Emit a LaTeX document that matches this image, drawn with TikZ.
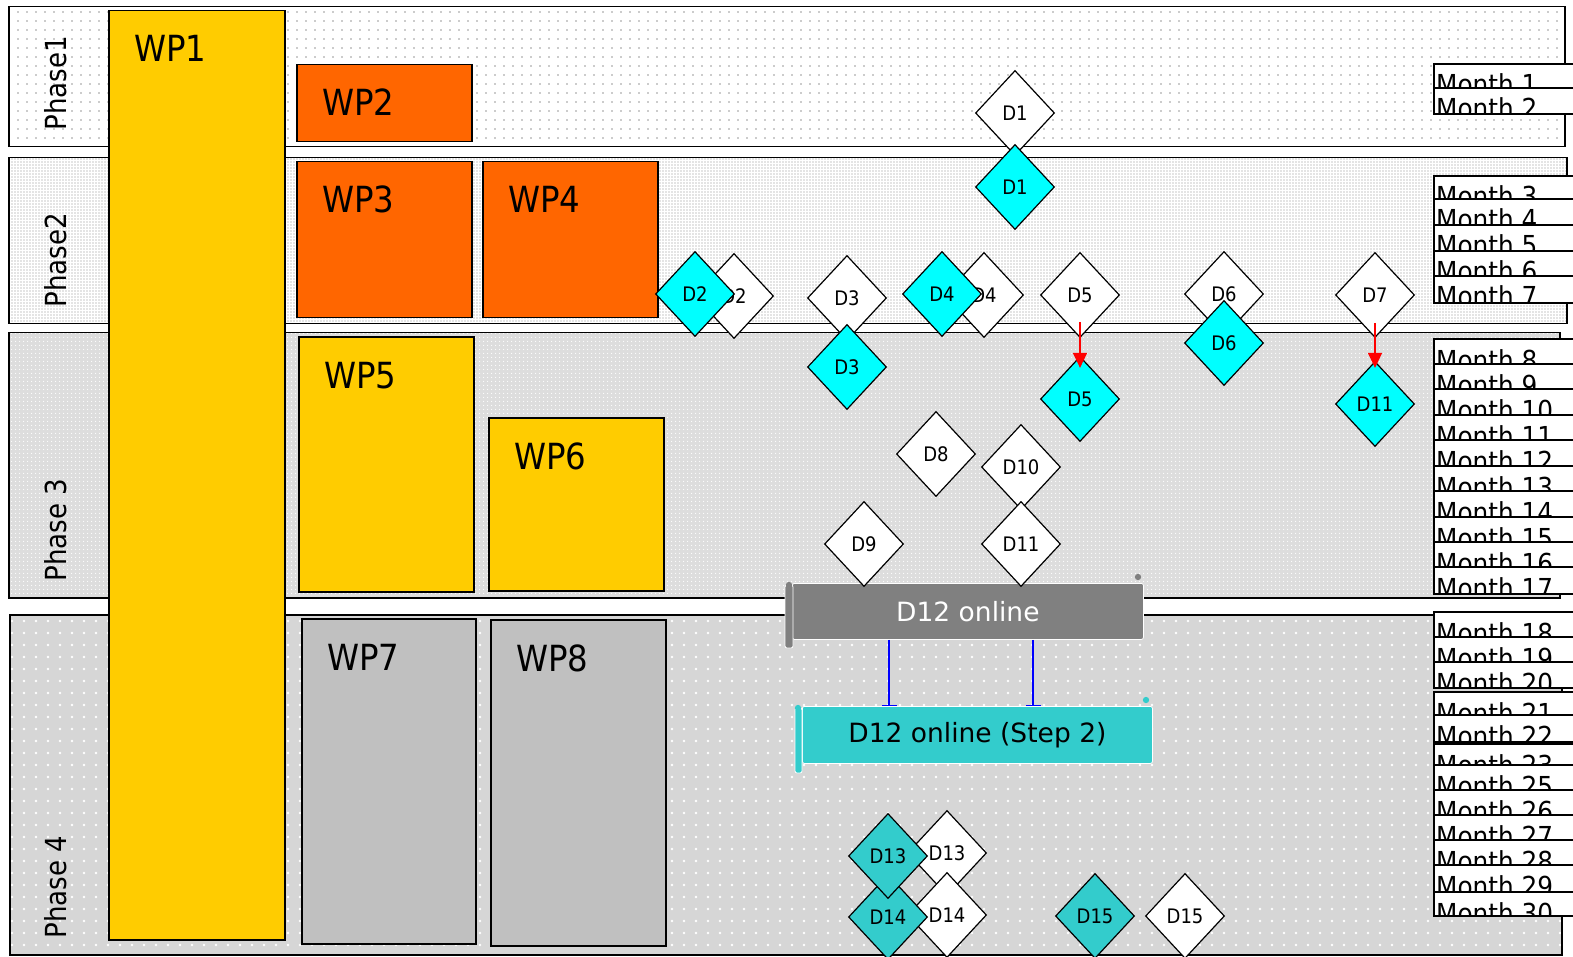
\documentclass[tikz,border=0pt]{standalone}
\usepackage{fontspec}
\setmainfont{DejaVu Sans}
\newfontfamily\narrowfont{DejaVu Sans Condensed}
\usetikzlibrary{arrows.meta,calc,shapes.geometric,patterns.meta}
\definecolor{wpyellow}{HTML}{FFCC00}\definecolor{wporange}{HTML}{FF6600}\definecolor{wpgray}{HTML}{C0C0C0}
\definecolor{delcyan}{HTML}{00FFFF}\definecolor{delteal}{HTML}{33CCCC}\definecolor{scrollgray}{HTML}{808080}
\definecolor{phthree}{HTML}{DDDDDD}\definecolor{phfour}{HTML}{D6D6D6}
\tikzset{>=Stealth,
 phase/.style={draw=black,line width=1.5pt,anchor=north west,inner sep=0pt},
 wpbox/.style={draw=black,line width=1.5pt,anchor=north west,inner sep=0pt},
 wplabel/.style={anchor=base west,inner sep=0pt,font=\narrowfont\fontsize{36}{40}\selectfont},
 phaselabel/.style={rotate=90,anchor=base west,inner sep=0pt,font=\narrowfont\fontsize{29}{30}\selectfont},
 deliv/.style={diamond,draw=black,line width=1.2pt,fill=white,minimum width=79pt,minimum height=85pt,inner sep=0pt,font=\narrowfont\fontsize{20}{22}\selectfont},
 monthbox/.style={draw=black,line width=1.5pt,fill=white},
 monthtext/.style={anchor=base west,inner sep=0pt,font=\narrowfont\fontsize{27.5}{30}\selectfont},
 scrollbody/.style={draw=white,line width=.8pt,rounded corners=2pt,inner sep=0pt,anchor=north west,font=\fontsize{26.5}{30}\selectfont},
 scrollbar/.style={draw=white,line width=.8pt,rounded corners=2pt},
 curl/.style={line width=1.2pt,fill=white},
 slipline/.style={red,line width=1.5pt,-{Triangle[width=14pt,length=15pt]}},
 keepline/.style={blue,line width=1.5pt,-{Bar[width=15pt,line width=1pt]}}}
\newcommand{\workpkg}[7]{\node[wpbox,fill=#6,minimum width=#4pt,minimum height=#5pt] (#1) at (#2,#3) {};
 \node[wplabel] (#1lbl) at ($(#1.north west)+(26,52)$) {#7};}

\begin{document}
\begin{tikzpicture}[x=1pt,y=-1pt]
\useasboundingbox (0,0) rectangle (1573,957);\clip (0,0) rectangle (1573,957);
% phases
\node[phase,preaction={fill=white},pattern={Dots[distance=9pt,radius=.8pt]},pattern color=black!40,minimum width=1556pt,minimum height=140pt] (ph1) at (8,6) {};
\node[phase,preaction={fill=white},pattern={Dots[distance=3pt,radius=.6pt]},pattern color=black!45,minimum width=1558pt,minimum height=166pt] (ph2) at (8,157) {};
\node[phase,preaction={fill=phthree},pattern={Dots[distance=4pt,radius=.8pt]},pattern color=white,minimum width=1551pt,minimum height=265pt] (ph3) at (8,332) {};
\node[phase,preaction={fill=phfour},pattern={Dots[distance=12pt,radius=1.3pt]},pattern color=white,minimum width=1552pt,minimum height=340pt] (ph4) at (9,614) {};
\node[phaselabel] (ph1lbl) at ($(ph1.south west)+(58,-17)$) {Phase1};
\node[phaselabel] (ph2lbl) at ($(ph2.south west)+(58,-17)$) {Phase2};
\node[phaselabel] (ph3lbl) at ($(ph3.south west)+(58,-17)$) {Phase 3};
\node[phaselabel] (ph4lbl) at ($(ph4.south west)+(57,-17)$) {Phase 4};
% work packages
\workpkg{wp1}{108}{10}{176}{929}{wpyellow}{WP1}
\workpkg{wp2}{296}{64}{175}{77}{wporange}{WP2}
\workpkg{wp3}{296}{161}{175}{156}{wporange}{WP3}
\workpkg{wp4}{482}{161}{175}{156}{wporange}{WP4}
\workpkg{wp5}{298}{336}{175}{255}{wpyellow}{WP5}
\workpkg{wp6}{488}{417}{175}{173}{wpyellow}{WP6}
\workpkg{wp7}{301}{618}{174}{325}{wpgray}{WP7}
\workpkg{wp8}{490}{619}{175}{326}{wpgray}{WP8}
% months
\foreach \m/\t/\b in {1/64/88,2/88/114,3/176/199,4/199/225,5/225/251,6/251/276,7/276/303,8/339/364,9/364/389,10/389/415,11/415/440,12/440/466,13/466/491,14/491/517,15/517/542,16/542/567,17/567/594,18/612/637,19/637/662,20/662/688,21/692/715,22/715/742,23/744/765,25/765/790,26/790/815,27/815/840,28/840/865,29/865/892,30/892/916}{
 \draw[monthbox] (1434,\t) rectangle (1600,\b);
 \begin{scope}\clip (1434,\t) rectangle (1600,\b);\node[monthtext] (m\m) at (1436,\t+31) {Month \m};\end{scope}}
% D12 scrolls
\node[scrollbody,fill=scrollgray,text=white,minimum width=351pt,minimum height=56pt] (d12) at (792,583) {D12 online};
\draw[scrollbar,fill=scrollgray] (785,585) rectangle (793,648);
\draw[curl,scrollgray] (789,585) circle(2.5pt);\draw[curl,scrollgray] (1138,577) circle(2.5pt);
\node[scrollbody,fill=delteal,text=black,minimum width=350pt,minimum height=57pt] (d12s) at (802,706) {D12 online (Step 2)};
\draw[scrollbar,fill=delteal] (795,708) rectangle (802,773);
\draw[curl,delteal] (798,708) circle(2.5pt);\draw[curl,delteal] (1146,700) circle(2.5pt);
\coordinate (b1) at (889,0);\coordinate (b2) at (1033,0);
\draw[keepline] (d12.south -| b1) -- (d12s.north -| b1);
\draw[keepline] (d12.south -| b2) -- (d12s.north -| b2);
% deliverables
\foreach \n/\x/\y/\t in {d1w/1015/113/D1,d2w/734/296/D2,d3w/847/298/D3,d4w/984/295/D4,d5w/1080/295/D5,d6w/1224/294/D6,d7w/1375/295/D7,d8w/936/454/D8,d10w/1021/467/D10,d9w/864/544/D9,d11w/1021/544/D11,d13w/947/853/D13,d14w/947/915/D14,d15w/1185/916/D15}
 \node[deliv] (\n) at (\x,\y) {\t};
\foreach \n/\x/\y/\t in {d1c/1015/187/D1,d2c/695/294/D2,d3c/847/367/D3,d4c/942/294/D4,d5c/1080/399/D5,d6c/1224/343/D6,d11c/1375/404/D11}
 \node[deliv,fill=delcyan] (\n) at (\x,\y) {\t};
\foreach \n/\x/\y/\t in {d14c/888/917/D14,d13c/888/856/D13,d15c/1095/916/D15}
 \node[deliv,fill=delteal] (\n) at (\x,\y) {\t};
\draw[slipline] ($(d5w)+(0,27)$) -- ($(d5c.north)+(0,12)$);
\draw[slipline] ($(d7w)+(0,28)$) -- ($(d11c.north)+(0,7)$);
\end{tikzpicture}
\end{document}
